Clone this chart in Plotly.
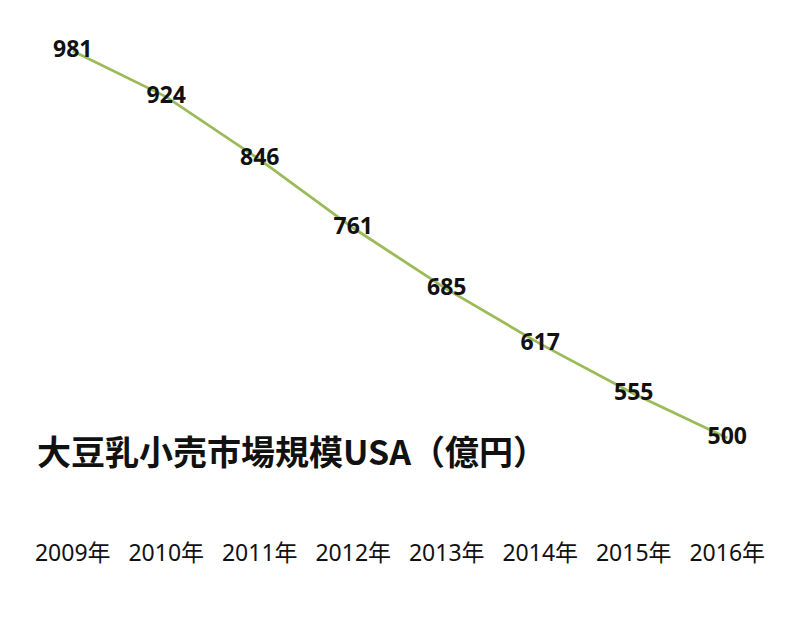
import plotly.graph_objects as go

years = ["2009年", "2010年", "2011年", "2012年", "2013年", "2014年", "2015年", "2016年"]
values = [981, 924, 846, 761, 685, 617, 555, 500]
title_text = "大豆乳小売市場規模USA（億円）"

fig = go.Figure()
fig.add_trace(go.Scatter(
    x=list(range(len(years))),
    y=values,
    mode="lines+text",
    text=[str(v) for v in values],
    textposition="middle center",
    textfont=dict(family="Noto Sans, Noto Sans CJK JP", size=23, color="#111111", weight="bold"),
    line=dict(color="#9BBB59", width=2.8),
    hoverinfo="skip",
    showlegend=False,
))

fig.add_annotation(
    text=title_text,
    xref="paper", yref="paper",
    x=(35 - 26) / 748, y=(631 - 94 - 450) / 515,
    xanchor="left", yanchor="middle",
    showarrow=False,
    font=dict(family="Noto Sans CJK JP", size=34, color="#111111", weight="bold"),
)

fig.update_layout(
    width=800, height=631,
    margin=dict(l=26, r=26, t=22, b=94),
    paper_bgcolor="white", plot_bgcolor="white",
    xaxis=dict(
        range=[-0.5, 7.5],
        tickmode="array",
        tickvals=list(range(len(years))),
        ticktext=years,
        showgrid=False, zeroline=False, showline=False,
        ticks="", ticklabelstandoff=0,
        tickfont=dict(family="Noto Sans, Noto Sans CJK JP", size=23, color="#111111"),
    ),
    yaxis=dict(
        range=[376.99, 1017.04],
        showgrid=False, zeroline=False, showline=False,
        showticklabels=False, ticks="",
    ),
)

fig.write_html("out.html", config={"displayModeBar": False},
               post_script="document.body.style.margin='0';")
